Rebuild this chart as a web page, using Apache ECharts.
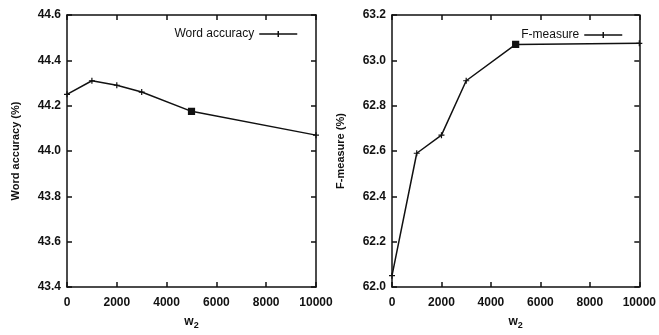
<!DOCTYPE html>
<html><head><meta charset="utf-8">
<script src="https://cdn.jsdelivr.net/npm/echarts@6/dist/echarts.min.js"></script>
<style>html,body{margin:0;padding:0;background:#fff}#c{width:659px;height:335px}</style>
</head><body><div id="c"></div>
<script>
const w2 = [0, 1000, 2000, 3000, 5000, 10000];
const wordAccuracy = [44.25, 44.31, 44.29, 44.26, 44.175, 44.07];
const fMeasure = [62.05, 62.59, 62.67, 62.91, 63.07, 63.075];
const xTicks = [0, 2000, 4000, 6000, 8000, 10000];
const leftYTicks = [43.4, 43.6, 43.8, 44.0, 44.2, 44.4, 44.6];
const rightYTicks = [62.0, 62.2, 62.4, 62.6, 62.8, 63.0, 63.2];

const font = {fontFamily: 'Liberation Sans', fontSize: 12, fontWeight: 'bold', color: '#111'};
const cross = 'path://M0,-5L0,5M-5,0L5,0';
const legendIcon = 'path://M0,3L38,3M19,0L19,6';
function pts(ys){
  return w2.map((x,i)=> i===4 ? {value:[x,ys[i]], symbol:'rect', symbolSize:6, itemStyle:{color:'#111'}} : {value:[x,ys[i]]});
}
function xAx(gi, show){
  return {type:'value', gridIndex:gi, min:0, max:10000, interval:2000, position: show?'bottom':'top',
    axisLine:{show:true, onZero:false, lineStyle:{color:'#111', width:1.5}},
    axisTick:{show:true, inside:true, length:5, lineStyle:{color:'#111', width:1.5}},
    axisLabel:{show:show, ...font, margin:10, formatter:v=>String(v)},
    splitLine:{show:false},
    name: show ? '{w|w}{s|2}' : '', nameLocation:'middle', nameGap:26,
    nameTextStyle:{rich:{w:{...font, fontSize:12}, s:{...font, fontSize:9, padding:[8,0,0,0]}}}};
}
function yAx(gi, min, max, show, name){
  return {type:'value', gridIndex:gi, min:min, max:max, interval:0.2, position: show?'left':'right',
    axisLine:{show:true, onZero:false, lineStyle:{color:'#111', width:1.5}},
    axisTick:{show:true, inside:true, length:5, lineStyle:{color:'#111', width:1.5}},
    axisLabel:{show:show, ...font, margin:6, formatter:v=>v.toFixed(1)},
    splitLine:{show:false},
    name: show?name:'', nameLocation:'middle', nameGap:46, nameRotate:90,
    nameTextStyle:{...font, fontSize:11}};
}
const legendStyle = {align:'right', itemWidth:38, itemHeight:6, itemGap:6,
  itemStyle:{color:'#111', borderColor:'#111', borderWidth:1.5},
  textStyle:{...font, fontWeight:'normal', fontSize:12}};
const chart = echarts.init(document.getElementById('c'), null, {renderer:'canvas'});
chart.setOption({
  animation:false,
  backgroundColor:'#fff',
  grid:[{left:67, top:15, width:249, height:276},{left:392, top:15, width:250, height:278}],
  xAxis:[xAx(0,true), xAx(0,false), xAx(1,true), xAx(1,false)],
  yAxis:[yAx(0, 43.4, 44.6, true, 'Word accuracy (%)'), yAx(0, 43.4, 44.6, false, ''),
         yAx(1, 62.0, 63.2, true, 'F-measure (%)'), yAx(1, 62.0, 63.2, false, '')],
  legend:[
    {...legendStyle, data:[{name:'Word accuracy', icon:legendIcon}], right:659-303, top:23},
    {...legendStyle, data:[{name:'F-measure', icon:legendIcon}], right:659-628, top:24}
  ],
  series:[
    {name:'Word accuracy', type:'line', xAxisIndex:0, yAxisIndex:0, data:pts(wordAccuracy),
     symbol:cross, symbolSize:6, showAllSymbol:true,
     lineStyle:{color:'#111', width:1.5}, itemStyle:{color:'#111', borderColor:'#111', borderWidth:1.2}},
    {name:'F-measure', type:'line', xAxisIndex:2, yAxisIndex:2, data:pts(fMeasure),
     symbol:cross, symbolSize:6, showAllSymbol:true,
     lineStyle:{color:'#111', width:1.5}, itemStyle:{color:'#111', borderColor:'#111', borderWidth:1.2}}
  ]
});
</script></body></html>
